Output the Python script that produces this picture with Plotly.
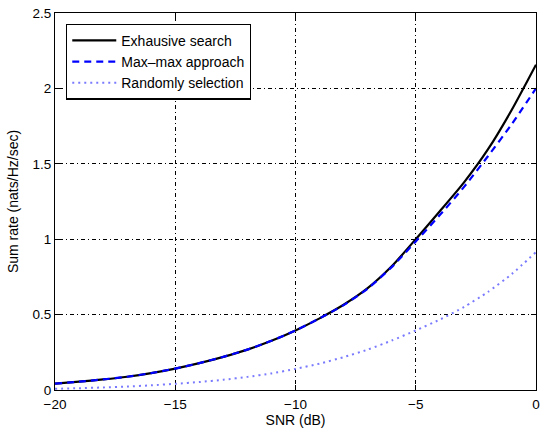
import plotly.graph_objects as go

snr_db = [-20, -19, -18, -17, -16, -15, -14, -13, -12, -11, -10,
          -9, -8, -7, -6, -5, -4, -3, -2, -1, 0]
exhaustive = [0.042, 0.055, 0.070, 0.088, 0.112, 0.142, 0.178, 0.22, 0.268, 0.326, 0.395,
              0.475, 0.565, 0.675, 0.82, 1.0, 1.185, 1.375, 1.595, 1.86, 2.157]
maxmax = [0.042, 0.055, 0.070, 0.088, 0.112, 0.142, 0.178, 0.22, 0.268, 0.326, 0.395,
          0.475, 0.563, 0.672, 0.815, 0.985, 1.16, 1.345, 1.55, 1.765, 2.0]
randomsel = [0.008, 0.012, 0.017, 0.023, 0.031, 0.041, 0.053, 0.068, 0.087, 0.11, 0.14,
             0.175, 0.218, 0.268, 0.328, 0.395, 0.467, 0.55, 0.65, 0.77, 0.915]

xticks = [-20, -15, -10, -5, 0]
xtick_text = ["\u221220", "\u221215", "\u221210", "\u22125", "0"]
yticks = [0, 0.5, 1, 1.5, 2, 2.5]
ytick_text = ["0", "0.5", "1", "1.5", "2", "2.5"]

FONT = "Liberation Sans, Arial, Helvetica"

fig = go.Figure()
fig.add_trace(go.Scatter(x=snr_db, y=exhaustive, mode="lines", name="Exhausive search",
                         line=dict(color="black", width=2.2, shape="spline", smoothing=0.6)))
fig.add_trace(go.Scatter(x=snr_db, y=maxmax, mode="lines", name="Max\u2013max approach",
                         line=dict(color="#0000ff", width=2.2, dash="7px,5px", shape="spline", smoothing=0.6)))
fig.add_trace(go.Scatter(x=snr_db, y=randomsel, mode="lines", name="Randomly selection",
                         line=dict(color="#7a7aff", width=2, dash="2px,4px", shape="spline", smoothing=0.6)))

axis_common = dict(
    showline=True, linecolor="black", linewidth=1.2, mirror="ticks",
    ticks="inside", ticklen=5, tickcolor="black", tickwidth=1,
    showgrid=True, gridcolor="black", gridwidth=1, griddash="1px,3px,4px,3px",
    zeroline=False, tickfont=dict(family=FONT, size=13.5, color="black"),
)

fig.update_xaxes(range=[-20, 0], tickvals=xticks, ticktext=xtick_text,
                 ticklabelstandoff=2,
                 title=dict(text="SNR (dB)", font=dict(family=FONT, size=14, color="black"),
                            standoff=3),
                 **axis_common)
fig.update_yaxes(range=[0, 2.5], tickvals=yticks, ticktext=ytick_text,
                 title=dict(text="Sum rate (nats/Hz/sec)", font=dict(family=FONT, size=14, color="black"),
                            standoff=10),
                 **axis_common)

fig.update_layout(
    width=541, height=434,
    margin=dict(l=55, r=5, t=13, b=44, autoexpand=False),
    plot_bgcolor="white", paper_bgcolor="white",
    legend=dict(x=0.023, y=0.972, xanchor="left", yanchor="top",
                bgcolor="white", bordercolor="black", borderwidth=1.2,
                font=dict(family=FONT, size=14, color="black"),
                tracegroupgap=0, itemwidth=44),
    showlegend=True,
)

fig.write_html("out.html")
